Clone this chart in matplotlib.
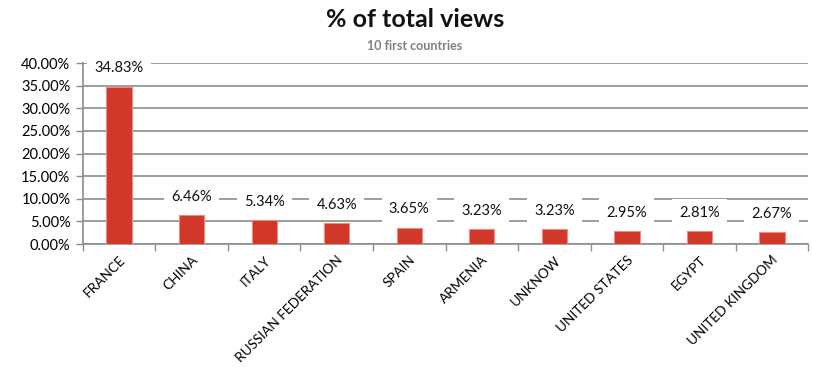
import matplotlib.pyplot as plt
from matplotlib.ticker import FuncFormatter, MultipleLocator

# Share of total views for the top 10 countries
countries = ['FRANCE', 'CHINA', 'ITALY', 'RUSSIAN FEDERATION', 'SPAIN',
             'ARMENIA', 'UNKNOW', 'UNITED STATES', 'EGYPT', 'UNITED KINGDOM']
share = [34.83, 6.46, 5.34, 4.63, 3.65, 3.23, 3.23, 2.95, 2.81, 2.67]

plt.rcParams['font.family'] = ['Lato', 'DejaVu Sans']

fig = plt.figure(figsize=(8.13, 3.67), dpi=100)
ax = fig.add_axes([0.102, 0.335, 0.892, 0.493])

x = range(len(countries))
ax.bar(x, share, width=0.35, color='#d0382a', edgecolor='#f08a80', linewidth=0.8, zorder=3)

for xi, v in zip(x, share):
    ax.annotate(f'{v:.2f}%', (xi, v), xytext=(0, 8), textcoords='offset points',
                ha='center', va='bottom', fontsize=10.5, color='#111111', zorder=4,
                bbox=dict(boxstyle='square,pad=0.5', fc='white', ec='none'))

ax.set_ylim(0, 40)
ax.set_xlim(-0.5, len(countries) - 0.5)
ax.yaxis.set_major_locator(MultipleLocator(5))
ax.yaxis.set_major_formatter(FuncFormatter(lambda v, p: f'{v:.2f}%'))
ax.grid(axis='y', color='#8c8c8c', linewidth=1.2, zorder=0)

# category separators as major ticks, names centred under bars as minor ticks
ax.set_xticks([i + 0.5 for i in range(-1, len(countries))], minor=False)
ax.set_xticklabels([])
ax.set_xticks(list(x), minor=True)
ax.set_xticklabels(countries, minor=True, rotation=45, ha='right', va='top',
                   rotation_mode='anchor', fontsize=9.8)
ax.tick_params(axis='x', which='minor', length=0, pad=7)
ax.tick_params(axis='x', which='major', length=5, color='#8c8c8c', width=1)
ax.tick_params(axis='y', length=5, color='#8c8c8c', width=1, labelsize=10.5, pad=4)

for s in ['top', 'right']:
    ax.spines[s].set_visible(False)
for s in ['left', 'bottom']:
    ax.spines[s].set_color('#8c8c8c')
    ax.spines[s].set_linewidth(1.2)

fig.text(0.51, 0.948, '% of total views', ha='center', va='center',
         fontsize=18, fontweight='bold', color='#111111')
fig.text(0.51, 0.875, '10 first countries', ha='center', va='center',
         fontsize=9, fontweight='bold', color='#808080')

fig.savefig('out.png', dpi=100)
